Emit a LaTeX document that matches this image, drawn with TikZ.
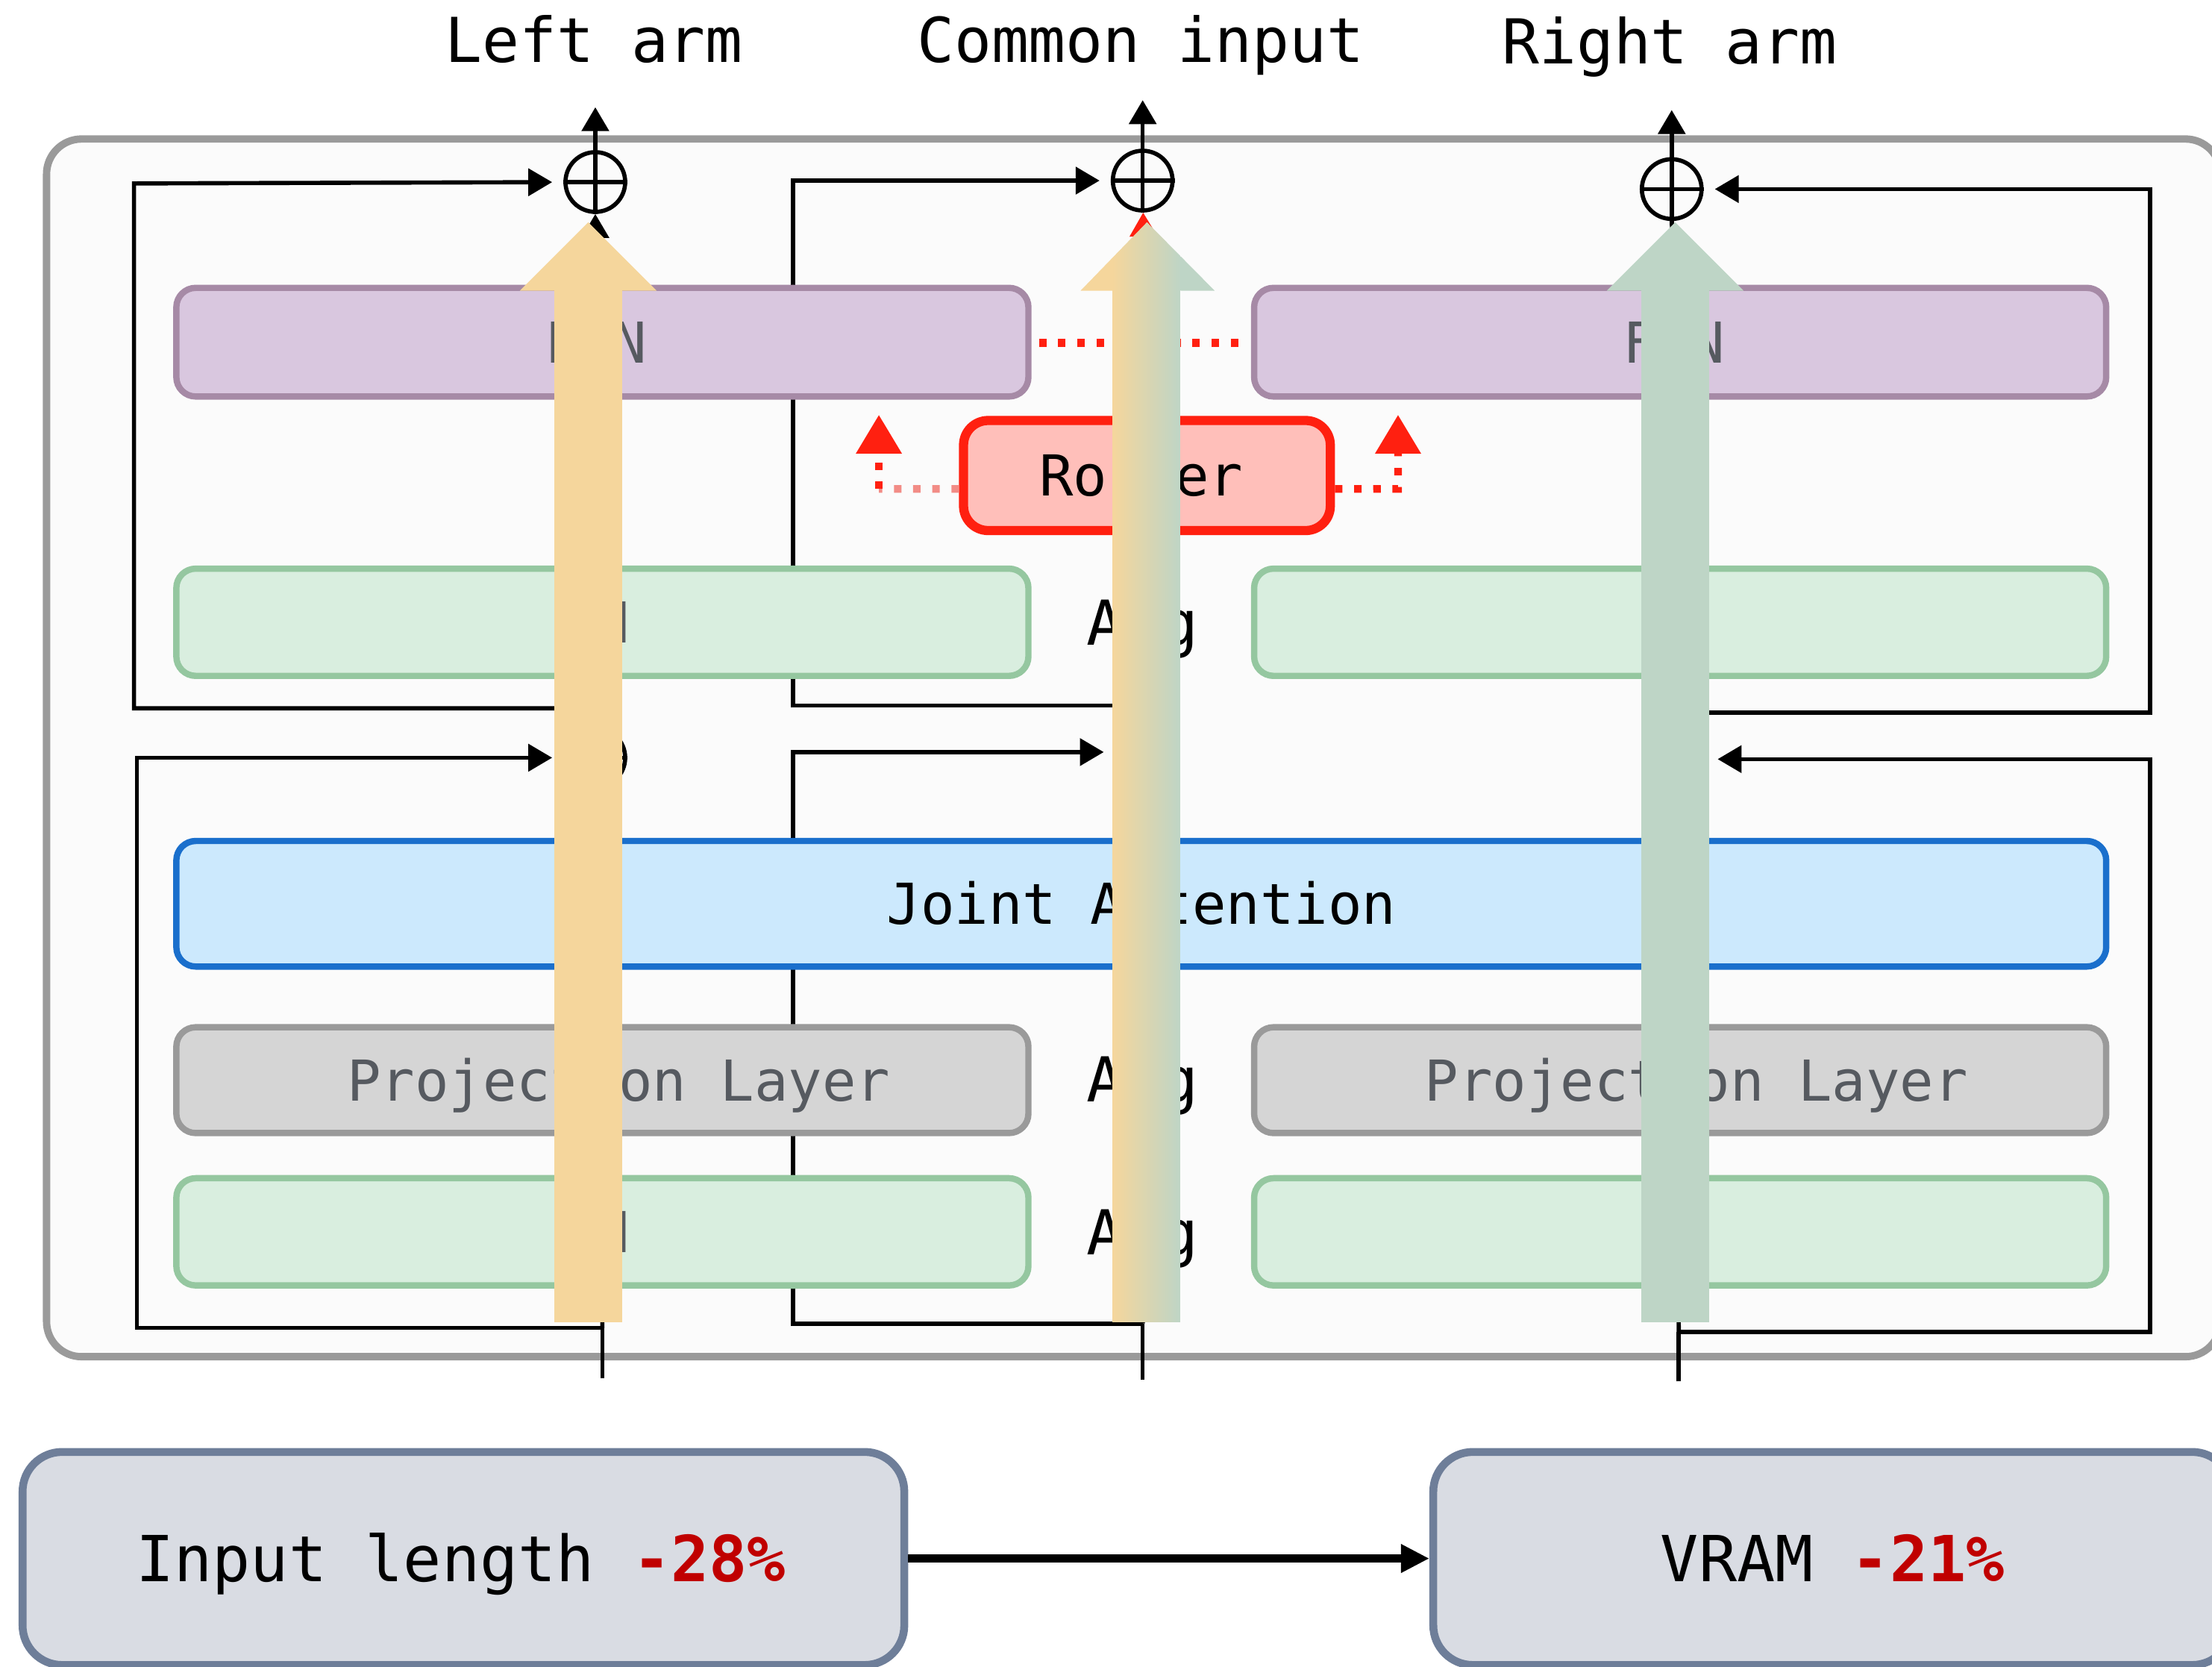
\documentclass[tikz,border=0pt]{standalone}
\usepackage{fontspec}
\setmainfont{DejaVu Sans Mono}
\usetikzlibrary{arrows.meta}

\definecolor{panelfill}{HTML}{FBFBFB}
\definecolor{paneldraw}{HTML}{9A9A9A}
\definecolor{ffnfill}{HTML}{D9C7DF}
\definecolor{ffndraw}{HTML}{A68AA6}
\definecolor{lnfill}{HTML}{D9EEDF}
\definecolor{lndraw}{HTML}{95C7A0}
\definecolor{attnfill}{HTML}{CCE9FD}
\definecolor{attndraw}{HTML}{1A6FCC}
\definecolor{projfill}{HTML}{D5D5D5}
\definecolor{projdraw}{HTML}{9A9A9A}
\definecolor{routerfill}{HTML}{FFBFBA}
\definecolor{routerdraw}{HTML}{FF2010}
\definecolor{salmon}{HTML}{F28C86}
\definecolor{wheat}{HTML}{F5D69C}
\definecolor{sage}{HTML}{BED5C6}
\definecolor{metricfill}{HTML}{D9DCE3}
\definecolor{metricdraw}{HTML}{6E7E99}
\definecolor{labelgray}{HTML}{565A60}
\definecolor{gainred}{HTML}{C00000}

\newcommand{\lyrfont}{\fontsize{21.5pt}{26pt}\selectfont}
\newcommand{\ttlfont}{\fontsize{23.6pt}{28pt}\selectfont}
\newcommand{\mtrfont}{\fontsize{24.2pt}{29pt}\selectfont}

\begin{document}
\begin{tikzpicture}[x=0.0189094cm, y=-0.0189094cm,
  dims/.style 2 args={minimum width=#1*0.0189094cm, minimum height=#2*0.0189094cm},
  panel/.style={draw=paneldraw, fill=panelfill, line width=2.8pt,
    rounded corners=0.47cm, inner sep=0pt},
  layer/.style={line width=2.4pt, rounded corners=0.26cm, inner sep=0pt,
    font=\lyrfont, text height=15.7pt, text depth=0pt},
  ffn/.style={layer, draw=ffndraw, fill=ffnfill, text=labelgray},
  ln/.style={layer, draw=lndraw, fill=lnfill, text=labelgray},
  proj/.style={layer, draw=projdraw, fill=projfill, text=labelgray},
  attn/.style={layer, draw=attndraw, fill=attnfill, text=black},
  router/.style={layer, line width=3.5pt, rounded corners=0.33cm,
    draw=routerdraw, fill=routerfill, text=black},
  avg/.style={font=\ttlfont, text height=17.2pt, text depth=0pt, inner sep=0pt},
  title/.style={font=\ttlfont, inner sep=0pt, anchor=base},
  metric/.style={draw=metricdraw, fill=metricfill, line width=3pt,
    rounded corners=0.53cm, inner sep=0pt, font=\mtrfont,
    text height=17.6pt, text depth=0pt},
  sum/.style={circle, draw, line width=1.6pt, minimum size=0.8cm, inner sep=0pt},
  wire/.style={line width=1.6pt, draw=black},
  tip/.style={-{Triangle[length=0.32cm,width=0.36cm]}},
  gap/.style={shorten >=0.15cm},
  rdot/.style={line width=2.95pt, dash pattern=on 0.1cm off 0.157cm, draw=routerdraw},
  rtip/.style={-{Triangle[length=0.52cm,width=0.59cm]}},
]
\useasboundingbox (0,0) rectangle (1568,1181);
\clip (0,0) rectangle (1568,1181);

% outer block
\node[panel, dims={1541}{863}] (panel) at (803.5,530) {};

% residual sums
\node[sum] (c1) at (422,129) {};
\node[sum] (c2) at (810,128) {};
\node[sum] (c3) at (1185,134) {};
\node[sum] (b1) at (422,537) {};
\node[sum] (b2) at (813,533) {};
\node[sum] (b3) at (1187,538) {};
\foreach \n in {c1,c2,c3,b1,b2,b3}
  \draw[wire] (\n.north) -- (\n.south) (\n.west) -- (\n.east);

% branch points and loop corners
\coordinate (s1) at (427,977);  \coordinate (j1) at (427,941);  \coordinate (k1) at (422,502);
\coordinate (s2) at (810,978);  \coordinate (j2) at (810,938);  \coordinate (k2) at (810,500);
\coordinate (s3) at (1190,979); \coordinate (j3) at (1190,944); \coordinate (k3) at (1187,505);
\coordinate (la) at (97,941);   \coordinate (lb) at (97,537);
\coordinate (lc) at (95,502);   \coordinate (ld) at (95,130);
\coordinate (ma) at (562,938);  \coordinate (mb) at (562,533);
\coordinate (mc) at (562,500);  \coordinate (md) at (562,128);
\coordinate (ra) at (1524,944); \coordinate (rb) at (1524,538);
\coordinate (rc) at (1524,505); \coordinate (rd) at (1524,134);
\coordinate (o1) at (422,76);   \coordinate (o2) at (810,71);   \coordinate (o3) at (1185,78);

% left arm wiring
\draw[wire] (s1) -- (j1);
\draw[wire, tip] (j1) -- (b1);
\draw[wire, tip, gap] (j1) -- (la) -- (lb) -- (b1);
\draw[wire] (b1) -- (k1);
\draw[wire, tip] (k1) -- (c1);
\draw[wire, tip, gap] (k1) -- (lc) -- (ld) -- (c1);
\draw[wire, tip] (c1) -- (o1);

% common input wiring
\draw[wire] (s2) -- (j2);
\draw[wire, tip] (j2) -- (b2);
\draw[wire, tip, gap] (j2) -- (ma) -- (mb) -- (b2);
\draw[wire] (b2) -- (k2);
\draw[wire, tip, gap] (k2) -- (mc) -- (md) -- (c2);
\draw[wire, tip] (c2) -- (o2);

% right arm wiring
\draw[wire] (s3) -- (j3);
\draw[wire, tip] (j3) -- (b3);
\draw[wire, tip, gap] (j3) -- (ra) -- (rb) -- (b3);
\draw[wire] (b3) -- (k3);
\draw[wire] (k3) -- (c3);
\draw[wire, tip, gap] (k3) -- (rc) -- (rd) -- (c3);
\draw[wire, tip] (c3) -- (o3);

% layers
\node[ffn, dims={604}{77}] (ffnL) at (427,242.5) {FFN\hspace*{0.17cm}};
\node[ffn, dims={604}{77}] (ffnR) at (1191,242.5) {FFN\hspace*{0.17cm}};
\node[router, dims={260}{78}] (router) at (813,337) {Router\hspace*{0.15cm}};
\node[ln, dims={604}{76}] (lnL1) at (427,441) {LN\hspace*{0.17cm}};
\node[ln, dims={604}{76}] (lnR1) at (1191,441) {LN\hspace*{0.17cm}};
\node[attn, dims={1368}{89}] (attn) at (809,640.5) {Joint Attention};
\node[proj, dims={604}{75}] (projL) at (427,765.5) {\hspace*{0.435cm}Projection Layer};
\node[proj, dims={604}{75}] (projR) at (1191,765.5) {\hspace*{0.435cm}Projection Layer};
\node[ln, dims={604}{76}] (lnL2) at (427,873) {LN\hspace*{0.17cm}};
\node[ln, dims={604}{76}] (lnR2) at (1191,873) {LN\hspace*{0.17cm}};

\node[avg] (avg1) at (810,441) {Avg};
\node[avg] (avg2) at (810,765) {Avg};
\node[avg] (avg3) at (810,873) {Avg};

% router links
\draw[rdot, shorten <=0.1cm, shorten >=0.1cm] ([yshift=-0.01cm]ffnL.east) -- ([yshift=-0.01cm]ffnR.west);
\coordinate (rl1) at (623,346.5); \coordinate (rl2) at (623,294);
\coordinate (rr1) at (991,346.5); \coordinate (rr2) at (991,294);
\draw[rdot, draw=salmon] ([yshift=-0.18cm]router.west) -- (rl1);
\draw[rdot, rtip] (rl1) -- (rl2);
\draw[rdot, rtip] ([yshift=-0.18cm]router.east) -- (rr1) -- (rr2);
\draw[line width=1.6pt, draw=routerdraw, tip] (router) -- (c2);

% token streams
\fill[wheat] (393,937) -- (393,206) -- (368.5,206) -- (417,157.5) -- (465.5,206)
  -- (441,206) -- (441,937) -- cycle;
\fill[sage] (1163.5,937) -- (1163.5,206) -- (1139,206) -- (1187.5,157.5) -- (1236,206)
  -- (1211.5,206) -- (1211.5,937) -- cycle;
\begin{scope}
  \clip (788.5,937) -- (788.5,206) -- (766,206) -- (813,157.5) -- (861,206)
    -- (837,206) -- (837,937) -- cycle;
  \fill[wheat] (760,150) rectangle (788.5,940);
  \shade[left color=wheat, right color=sage] (788.5,150) rectangle (837,940);
  \fill[sage] (837,150) rectangle (870,940);
\end{scope}

% headings
\node[title] (tleft) at (421,44) {Left arm};
\node[title] (tmid) at (808.5,44) {Common input};
\node[title] (tright) at (1183.5,45) {Right arm};

% savings
\node[metric, dims={625}{151}] (inlen) at (328.5,1104.5)
  {Input length \textcolor{gainred}{\bfseries -28\%}\hspace*{0.07cm}};
\node[metric, dims={566}{151}] (vram) at (1299,1104.5)
  {VRAM \textcolor{gainred}{\bfseries -21\%}};
\draw[line width=3.3pt, -{Triangle[length=0.38cm,width=0.36cm]}] (inlen.east) -- (vram.west);
\end{tikzpicture}
\end{document}
